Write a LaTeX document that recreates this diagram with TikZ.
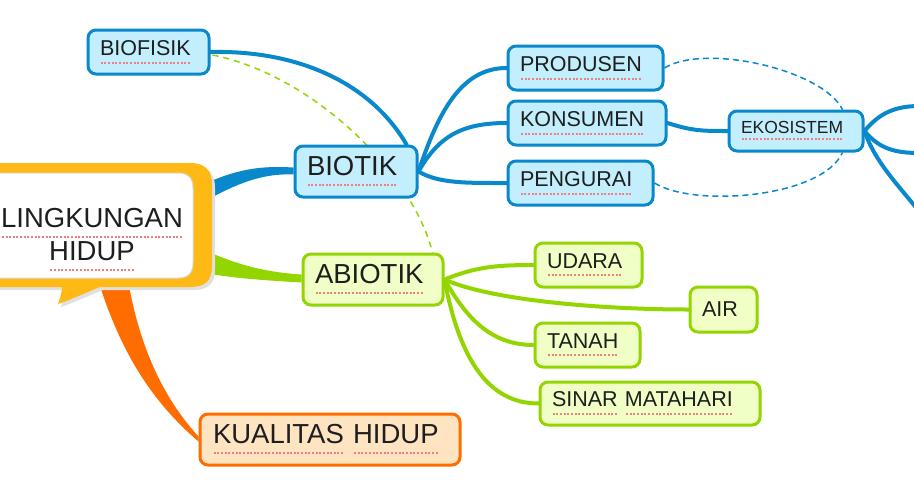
\documentclass[tikz,border=0pt]{standalone}
\usepackage{fontspec}
\setmainfont{Liberation Sans}
\usetikzlibrary{calc}
\pgfdeclarelayer{background}
\pgfsetlayers{background,main}
\definecolor{bl}{HTML}{0A88CC}
\definecolor{blfill}{HTML}{C2EEFD}
\definecolor{gr}{HTML}{93D500}
\definecolor{grfill}{HTML}{F0FFC6}
\definecolor{orl}{HTML}{FF6D00}
\definecolor{orfill}{HTML}{FFE4C2}
\definecolor{callout}{HTML}{FFB914}
\definecolor{ulred}{HTML}{F08080}
\definecolor{txt}{HTML}{1E1E1E}
\newlength\spllen
\newcommand\spl[1]{\settowidth\spllen{#1}\leavevmode\rlap{\raisebox{-0.38em}{\color{ulred}\hbox to\spllen{\xleaders\hbox to 3.6pt{\hss\rule{2pt}{2pt}\hss}\hfill}}}#1}
\newcommand\fbig{\fontsize{27.5pt}{33pt}\selectfont}
\newcommand\fmid{\fontsize{21.5pt}{25pt}\selectfont}
\newcommand\fsml{\fontsize{17.5pt}{21pt}\selectfont}
\newcommand\bubblepath{(-40,163) -- (190,163) .. controls (205,163) and (212,170) .. (212,185) -- (212,266) .. controls (212,281) and (205,287) .. (190,287) -- (100,287) .. controls (85,293) and (70,300) .. (58,304) .. controls (60,298) and (62,292) .. (62,287) -- (-40,287) -- cycle}
\tikzset{
  boxbase/.style={line width=3pt, rounded corners=8pt, anchor=north west, inner xsep=12pt, inner ysep=0pt, align=left, text=txt},
  bbox/.style={boxbase, draw=bl, fill=blfill},
  gbox/.style={boxbase, draw=gr, fill=grfill},
  obox/.style={boxbase, draw=orl, fill=orfill},
  bline/.style={draw=bl, line width=4pt, line cap=round},
  gline/.style={draw=gr, line width=4pt, line cap=round},
  bdash/.style={draw=bl, line width=1.5pt, dash pattern=on 6pt off 4pt},
  gdash/.style={draw=gr, line width=1.5pt, dash pattern=on 6pt off 5pt},
}
\begin{document}
\begin{tikzpicture}[x=1pt,y=-1pt]
\useasboundingbox (0,0) rectangle (914,480);
\clip (0,0) rectangle (914,480);

% nodes
\node[bbox, minimum width=121pt, minimum height=44pt, text width=97pt, font=\fmid] (biofisik) at (86.5,28.5) {\spl{BIOFISIK}};
\node[bbox, minimum width=122pt, minimum height=51pt, text width=98pt, font=\fbig] (biotik) at (293.5,144.5) {\spl{BIOTIK}};
\node[gbox, minimum width=140pt, minimum height=51pt, text width=116pt, font=\fbig] (abiotik) at (301.5,252.5) {\spl{ABIOTIK}};
\node[bbox, minimum width=155pt, minimum height=44pt, text width=131pt, font=\fmid] (prod) at (506.5,44.5) {\spl{PRODUSEN}};
\node[bbox, minimum width=158pt, minimum height=44pt, text width=134pt, font=\fmid] (kons) at (506.5,99.5) {\spl{KONSUMEN}};
\node[bbox, minimum width=145pt, minimum height=44pt, text width=121pt, font=\fmid] (peng) at (506.5,159.5) {\spl{PENGURAI}};
\node[bbox, minimum width=134pt, minimum height=40pt, text width=110pt, font=\fsml] (eko) at (727.5,109.5) {\spl{EKOSISTEM}};
\node[gbox, minimum width=107pt, minimum height=44pt, text width=83pt, font=\fmid] (udara) at (533.5,241.5) {\spl{UDARA}};
\node[gbox, minimum width=67pt, minimum height=45pt, text width=43pt, font=\fmid] (air) at (688.5,285.5) {AIR};
\node[gbox, minimum width=105pt, minimum height=44pt, text width=81pt, font=\fmid] (tanah) at (533.5,321.5) {\spl{TANAH}};
\node[gbox, minimum width=220pt, minimum height=43pt, text width=196pt, font=\fmid] (sinar) at (538.5,380.5) {\spl{SINAR} \spl{MATAHARI}};
\node[obox, minimum width=260pt, minimum height=51pt, text width=234pt, inner xsep=13pt, font=\fbig] (kual) at (198.5,412.5) {\spl{KUALITAS} \spl{HIDUP}};
\node[text=txt, align=center, font=\fbig, inner sep=0pt] (main) at (92,240) {\spl{LINGKUNGAN}\\\spl{HIDUP}};

% free ends
\coordinate (e1) at (920,106);
\coordinate (e2) at (920,153);
\coordinate (e3) at (918,210);

\begin{pgfonlayer}{background}
\fill[white] (0,0) rectangle (914,480);
% thick tapered connectors from the central bubble
\fill[bl] (200,186) .. controls (240,167) and (265,166) .. ($(biotik.west)+(0,-4)$) -- ($(biotik.west)+(0,3)$) .. controls (262,173) and (235,184) .. (200,204) -- cycle;
\fill[gr] (200,248) .. controls (230,262) and (260,272) .. ($(abiotik.west)+(0,-5)$) -- ($(abiotik.west)+(0,3)$) .. controls (260,280) and (230,278) .. (200,272) -- cycle;
\fill[orl] (98,280) .. controls (120,350) and (150,400) .. ($(kual.west)+(0,2)$) -- ($(kual.west)+(0,-3)$) .. controls (165,400) and (140,350) .. (128,280) -- cycle;
% central bubble
\fill[black!12] [shift={(3,3)}] \bubblepath;
\fill[callout] \bubblepath;
\draw[fill=white, draw=black!15, line width=1pt] (-40,173) -- (178,173) .. controls (188,173) and (193,178) .. (193,188) -- (193,263) .. controls (193,273) and (188,278) .. (178,278) -- (-40,278) -- cycle;
% thin connectors
\draw[bline] (biofisik.east) .. controls +(90,-2) and +(-35,-60) .. ($(biotik.north east)+(-12,0)$);
\draw[gdash] ($(biofisik.east)+(2,3)$) .. controls +(100,20) and +(-20,-80) .. ($(abiotik.north east)+(-12,0)$);
\draw[bline] (biotik.east) .. controls +(20,-60) and +(-45,0) .. (prod.west);
\draw[bline] (biotik.east) .. controls +(20,-35) and +(-45,0) .. (kons.west);
\draw[bline] (biotik.east) .. controls +(20,12) and +(-40,0) .. (peng.west);
\draw[bline] (kons.east) .. controls +(25,8) and +(-25,0) .. (eko.west);
\draw[bdash] (prod.east) .. controls +(40,-25) and +(-20,-40) .. ($(eko.north east)+(-22,0)$);
\draw[bdash] (peng.east) .. controls +(40,25) and +(-20,45) .. ($(eko.south east)+(-22,0)$);
\draw[bline] (eko.east) .. controls +(15,-18) and +(-25,0) .. (e1);
\draw[bline] (eko.east) .. controls +(15,18) and +(-25,0) .. (e2);
\draw[bline] (eko.east) .. controls +(10,30) and +(-20,-25) .. (e3);
\draw[gline] (abiotik.east) .. controls +(30,-12) and +(-40,0) .. (udara.west);
\draw[gline] (abiotik.east) .. controls +(50,22) and +(-80,0) .. (air.west);
\draw[gline] (abiotik.east) .. controls +(20,35) and +(-45,0) .. (tanah.west);
\draw[gline] (abiotik.east) .. controls +(15,80) and +(-50,0) .. (sinar.west);
\end{pgfonlayer}
\end{tikzpicture}
\end{document}
